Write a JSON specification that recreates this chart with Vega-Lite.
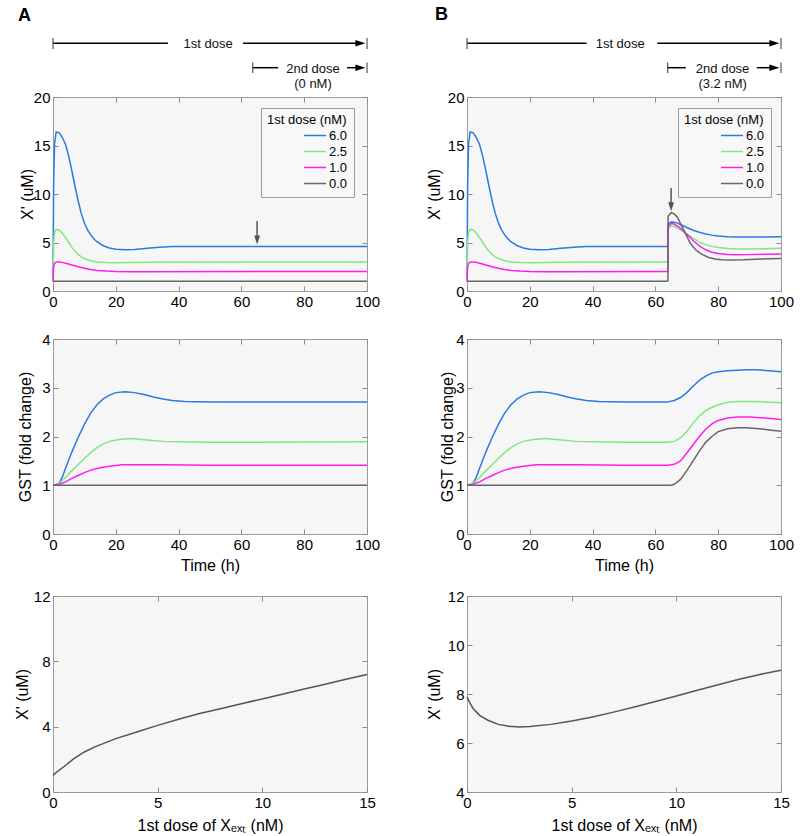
{
"$schema":"https://vega.github.io/schema/vega-lite/v6.json",
"background":"white",
"padding":{"left":13,"top":0,"right":10,"bottom":4},
"columns":2,
"spacing":{"row":0,"column":100},
"bounds":"flush",
"align":"each",
"resolve":{"scale":{"color":"independent"},"legend":{"color":"independent"}},
"datasets":{
"xA":[
{"t":0,"d":"6.0","v":1.0},{"t":0.2,"d":"6.0","v":11.0},{"t":0.5,"d":"6.0","v":15.2},{"t":1,"d":"6.0","v":16.4},{"t":2,"d":"6.0","v":16.3},{"t":3,"d":"6.0","v":15.8},{"t":4,"d":"6.0","v":15.1},{"t":5,"d":"6.0","v":13.9},{"t":6,"d":"6.0","v":12.4},{"t":7,"d":"6.0","v":10.8},{"t":8,"d":"6.0","v":9.3},{"t":9,"d":"6.0","v":8.0},{"t":10,"d":"6.0","v":7.0},{"t":11,"d":"6.0","v":6.3},{"t":12,"d":"6.0","v":5.78},{"t":13,"d":"6.0","v":5.38},{"t":14,"d":"6.0","v":5.08},{"t":16,"d":"6.0","v":4.67},{"t":18,"d":"6.0","v":4.43},{"t":20,"d":"6.0","v":4.31},{"t":23,"d":"6.0","v":4.26},{"t":26,"d":"6.0","v":4.29},{"t":30,"d":"6.0","v":4.4},{"t":34,"d":"6.0","v":4.51},{"t":38,"d":"6.0","v":4.58},{"t":42,"d":"6.0","v":4.6},{"t":64,"d":"6.0","v":4.6},{"t":100,"d":"6.0","v":4.6},
{"t":0,"d":"2.5","v":1.0},{"t":0.2,"d":"2.5","v":5.0},{"t":0.5,"d":"2.5","v":6.0},{"t":1,"d":"2.5","v":6.35},{"t":2,"d":"2.5","v":6.3},{"t":3,"d":"2.5","v":5.95},{"t":4,"d":"2.5","v":5.5},{"t":5,"d":"2.5","v":5.0},{"t":6,"d":"2.5","v":4.5},{"t":7,"d":"2.5","v":4.1},{"t":8,"d":"2.5","v":3.78},{"t":9,"d":"2.5","v":3.52},{"t":10,"d":"2.5","v":3.35},{"t":12,"d":"2.5","v":3.12},{"t":14,"d":"2.5","v":3.0},{"t":17,"d":"2.5","v":2.94},{"t":20,"d":"2.5","v":2.92},{"t":25,"d":"2.5","v":2.93},{"t":30,"d":"2.5","v":2.96},{"t":40,"d":"2.5","v":3.0},{"t":64,"d":"2.5","v":3.0},{"t":100,"d":"2.5","v":3.0},
{"t":0,"d":"1.0","v":1.0},{"t":0.2,"d":"1.0","v":2.5},{"t":0.5,"d":"1.0","v":2.85},{"t":1,"d":"1.0","v":3.0},{"t":2,"d":"1.0","v":3.0},{"t":3,"d":"1.0","v":2.95},{"t":4,"d":"1.0","v":2.87},{"t":5,"d":"1.0","v":2.78},{"t":6,"d":"1.0","v":2.68},{"t":8,"d":"1.0","v":2.5},{"t":10,"d":"1.0","v":2.34},{"t":12,"d":"1.0","v":2.21},{"t":14,"d":"1.0","v":2.12},{"t":17,"d":"1.0","v":2.05},{"t":20,"d":"1.0","v":2.01},{"t":25,"d":"1.0","v":1.99},{"t":64,"d":"1.0","v":2.0},{"t":100,"d":"1.0","v":2.0},
{"t":0,"d":"0.0","v":1.0},{"t":64,"d":"0.0","v":1.0},{"t":100,"d":"0.0","v":1.0}
],
"xBpost":[
{"t":64,"d":"6.0","v":4.6},{"t":64.05,"d":"6.0","v":6.9},{"t":65,"d":"6.0","v":7.12},{"t":66,"d":"6.0","v":7.1},{"t":67,"d":"6.0","v":7.0},{"t":68,"d":"6.0","v":6.85},{"t":70,"d":"6.0","v":6.55},{"t":72,"d":"6.0","v":6.27},{"t":74,"d":"6.0","v":6.05},{"t":76,"d":"6.0","v":5.88},{"t":78,"d":"6.0","v":5.76},{"t":80,"d":"6.0","v":5.68},{"t":83,"d":"6.0","v":5.6},{"t":86,"d":"6.0","v":5.56},{"t":90,"d":"6.0","v":5.56},{"t":95,"d":"6.0","v":5.57},{"t":100,"d":"6.0","v":5.58},
{"t":64,"d":"2.5","v":3.0},{"t":64.05,"d":"2.5","v":6.4},{"t":65,"d":"2.5","v":6.7},{"t":66,"d":"2.5","v":6.65},{"t":67,"d":"2.5","v":6.5},{"t":68,"d":"2.5","v":6.3},{"t":70,"d":"2.5","v":5.9},{"t":72,"d":"2.5","v":5.45},{"t":74,"d":"2.5","v":5.05},{"t":76,"d":"2.5","v":4.78},{"t":78,"d":"2.5","v":4.6},{"t":80,"d":"2.5","v":4.48},{"t":83,"d":"2.5","v":4.38},{"t":86,"d":"2.5","v":4.33},{"t":90,"d":"2.5","v":4.33},{"t":95,"d":"2.5","v":4.36},{"t":100,"d":"2.5","v":4.4},
{"t":64,"d":"1.0","v":2.0},{"t":64.05,"d":"1.0","v":6.6},{"t":65,"d":"1.0","v":6.95},{"t":66,"d":"1.0","v":6.9},{"t":67,"d":"1.0","v":6.7},{"t":68,"d":"1.0","v":6.45},{"t":70,"d":"1.0","v":5.85},{"t":72,"d":"1.0","v":5.2},{"t":74,"d":"1.0","v":4.65},{"t":76,"d":"1.0","v":4.25},{"t":78,"d":"1.0","v":4.0},{"t":80,"d":"1.0","v":3.86},{"t":83,"d":"1.0","v":3.77},{"t":86,"d":"1.0","v":3.74},{"t":90,"d":"1.0","v":3.75},{"t":95,"d":"1.0","v":3.78},{"t":100,"d":"1.0","v":3.82},
{"t":64,"d":"0.0","v":1.0},{"t":64.05,"d":"0.0","v":7.7},{"t":65,"d":"0.0","v":8.07},{"t":66,"d":"0.0","v":7.95},{"t":67,"d":"0.0","v":7.6},{"t":68,"d":"0.0","v":6.95},{"t":69,"d":"0.0","v":6.3},{"t":70,"d":"0.0","v":5.65},{"t":71,"d":"0.0","v":5.0},{"t":72,"d":"0.0","v":4.55},{"t":73,"d":"0.0","v":4.2},{"t":74,"d":"0.0","v":3.95},{"t":75,"d":"0.0","v":3.75},{"t":77,"d":"0.0","v":3.45},{"t":79,"d":"0.0","v":3.3},{"t":81,"d":"0.0","v":3.23},{"t":84,"d":"0.0","v":3.2},{"t":88,"d":"0.0","v":3.22},{"t":92,"d":"0.0","v":3.27},{"t":96,"d":"0.0","v":3.32},{"t":100,"d":"0.0","v":3.36}
],
"gA":[
{"t":0,"d":"6.0","v":1.0},{"t":1,"d":"6.0","v":1.01},{"t":2,"d":"6.0","v":1.05},{"t":3,"d":"6.0","v":1.17},{"t":4,"d":"6.0","v":1.35},{"t":6,"d":"6.0","v":1.68},{"t":8,"d":"6.0","v":1.98},{"t":10,"d":"6.0","v":2.25},{"t":12,"d":"6.0","v":2.48},{"t":14,"d":"6.0","v":2.65},{"t":16,"d":"6.0","v":2.77},{"t":18,"d":"6.0","v":2.85},{"t":20,"d":"6.0","v":2.9},{"t":23,"d":"6.0","v":2.92},{"t":26,"d":"6.0","v":2.9},{"t":29,"d":"6.0","v":2.86},{"t":32,"d":"6.0","v":2.81},{"t":35,"d":"6.0","v":2.77},{"t":38,"d":"6.0","v":2.74},{"t":42,"d":"6.0","v":2.72},{"t":50,"d":"6.0","v":2.71},{"t":64,"d":"6.0","v":2.71},{"t":100,"d":"6.0","v":2.71},
{"t":0,"d":"2.5","v":1.0},{"t":2,"d":"2.5","v":1.04},{"t":4,"d":"2.5","v":1.16},{"t":6,"d":"2.5","v":1.3},{"t":8,"d":"2.5","v":1.42},{"t":10,"d":"2.5","v":1.55},{"t":12,"d":"2.5","v":1.67},{"t":14,"d":"2.5","v":1.77},{"t":16,"d":"2.5","v":1.85},{"t":18,"d":"2.5","v":1.9},{"t":21,"d":"2.5","v":1.94},{"t":25,"d":"2.5","v":1.96},{"t":30,"d":"2.5","v":1.93},{"t":35,"d":"2.5","v":1.9},{"t":40,"d":"2.5","v":1.89},{"t":50,"d":"2.5","v":1.88},{"t":64,"d":"2.5","v":1.88},{"t":100,"d":"2.5","v":1.89},
{"t":0,"d":"1.0","v":1.0},{"t":2,"d":"1.0","v":1.02},{"t":4,"d":"1.0","v":1.07},{"t":6,"d":"1.0","v":1.14},{"t":8,"d":"1.0","v":1.2},{"t":10,"d":"1.0","v":1.26},{"t":12,"d":"1.0","v":1.31},{"t":15,"d":"1.0","v":1.36},{"t":18,"d":"1.0","v":1.39},{"t":22,"d":"1.0","v":1.42},{"t":27,"d":"1.0","v":1.42},{"t":35,"d":"1.0","v":1.42},{"t":50,"d":"1.0","v":1.41},{"t":64,"d":"1.0","v":1.41},{"t":100,"d":"1.0","v":1.41},
{"t":0,"d":"0.0","v":1.0},{"t":64,"d":"0.0","v":1.0},{"t":100,"d":"0.0","v":1.0}
],
"gBpost":[
{"t":64,"d":"6.0","v":2.71},{"t":66,"d":"6.0","v":2.74},{"t":68,"d":"6.0","v":2.8},{"t":70,"d":"6.0","v":2.9},{"t":72,"d":"6.0","v":3.03},{"t":74,"d":"6.0","v":3.15},{"t":76,"d":"6.0","v":3.24},{"t":78,"d":"6.0","v":3.3},{"t":80,"d":"6.0","v":3.33},{"t":83,"d":"6.0","v":3.35},{"t":86,"d":"6.0","v":3.36},{"t":89,"d":"6.0","v":3.37},{"t":92,"d":"6.0","v":3.37},{"t":96,"d":"6.0","v":3.35},{"t":100,"d":"6.0","v":3.33},
{"t":64,"d":"2.5","v":1.88},{"t":66,"d":"2.5","v":1.9},{"t":68,"d":"2.5","v":1.97},{"t":70,"d":"2.5","v":2.1},{"t":72,"d":"2.5","v":2.27},{"t":74,"d":"2.5","v":2.42},{"t":76,"d":"2.5","v":2.53},{"t":78,"d":"2.5","v":2.6},{"t":80,"d":"2.5","v":2.65},{"t":83,"d":"2.5","v":2.7},{"t":86,"d":"2.5","v":2.72},{"t":90,"d":"2.5","v":2.72},{"t":95,"d":"2.5","v":2.71},{"t":100,"d":"2.5","v":2.69},
{"t":64,"d":"1.0","v":1.41},{"t":66,"d":"1.0","v":1.43},{"t":68,"d":"1.0","v":1.5},{"t":70,"d":"1.0","v":1.66},{"t":72,"d":"1.0","v":1.83},{"t":74,"d":"1.0","v":2.0},{"t":76,"d":"1.0","v":2.15},{"t":78,"d":"1.0","v":2.26},{"t":80,"d":"1.0","v":2.33},{"t":83,"d":"1.0","v":2.38},{"t":86,"d":"1.0","v":2.4},{"t":90,"d":"1.0","v":2.4},{"t":95,"d":"1.0","v":2.38},{"t":100,"d":"1.0","v":2.35},
{"t":64,"d":"0.0","v":1.0},{"t":65,"d":"0.0","v":1.0},{"t":66,"d":"0.0","v":1.02},{"t":68,"d":"0.0","v":1.12},{"t":70,"d":"0.0","v":1.3},{"t":72,"d":"0.0","v":1.5},{"t":74,"d":"0.0","v":1.7},{"t":76,"d":"0.0","v":1.88},{"t":78,"d":"0.0","v":2.0},{"t":80,"d":"0.0","v":2.1},{"t":83,"d":"0.0","v":2.16},{"t":86,"d":"0.0","v":2.18},{"t":89,"d":"0.0","v":2.18},{"t":93,"d":"0.0","v":2.16},{"t":97,"d":"0.0","v":2.13},{"t":100,"d":"0.0","v":2.11}
],
"dA":[
{"c":0,"v":1.02},{"c":0.25,"v":1.3},{"c":0.5,"v":1.53},{"c":1,"v":2.04},{"c":1.5,"v":2.45},{"c":2,"v":2.76},{"c":3,"v":3.27},{"c":4,"v":3.67},{"c":5,"v":4.08},{"c":6,"v":4.45},{"c":7,"v":4.8},{"c":8,"v":5.1},{"c":9,"v":5.4},{"c":10,"v":5.7},{"c":11,"v":6.0},{"c":12,"v":6.3},{"c":13,"v":6.6},{"c":14,"v":6.9},{"c":15,"v":7.2}
],
"dB":[
{"c":0,"v":7.88},{"c":0.15,"v":7.62},{"c":0.3,"v":7.4},{"c":0.6,"v":7.13},{"c":1,"v":6.93},{"c":1.5,"v":6.76},{"c":2,"v":6.68},{"c":2.5,"v":6.65},{"c":3,"v":6.67},{"c":4,"v":6.76},{"c":5,"v":6.9},{"c":6,"v":7.06},{"c":7,"v":7.26},{"c":8,"v":7.47},{"c":9,"v":7.69},{"c":10,"v":7.92},{"c":11,"v":8.15},{"c":12,"v":8.38},{"c":13,"v":8.6},{"c":14,"v":8.8},{"c":15,"v":8.97}
],
"arrA":[{"t":65,"y1":7.22,"y2":5.5,"h":5.27}],
"arrB":[{"t":65,"y1":10.63,"y2":8.9,"h":8.68}],
"segA":[
{"x":0,"x2":36.6,"y":43.3,"y2":43.3,"k":"line"},{"x":60.5,"x2":98,"y":43.3,"y2":43.3,"k":"line"},{"x":63.6,"x2":71.7,"y":67.7,"y2":67.7,"k":"line"},{"x":93.6,"x2":98,"y":67.7,"y2":67.7,"k":"line"},
{"x":0,"x2":0,"y":38,"y2":49,"k":"tick"},{"x":100,"x2":100,"y":38,"y2":49,"k":"tick"},{"x":63.6,"x2":63.6,"y":62.5,"y2":73,"k":"tick"},{"x":100,"x2":100,"y":62.5,"y2":73,"k":"tick"}
],
"segB":[
{"x":0,"x2":38.1,"y":43.3,"y2":43.3,"k":"line"},{"x":60.6,"x2":98,"y":43.3,"y2":43.3,"k":"line"},{"x":63.9,"x2":69.7,"y":67.7,"y2":67.7,"k":"line"},{"x":92.3,"x2":98,"y":67.7,"y2":67.7,"k":"line"},
{"x":0,"x2":0,"y":38,"y2":49,"k":"tick"},{"x":100,"x2":100,"y":38,"y2":49,"k":"tick"},{"x":63.9,"x2":63.9,"y":62.5,"y2":73,"k":"tick"},{"x":100,"x2":100,"y":62.5,"y2":73,"k":"tick"}
],
"headA":[{"x":97.9,"y":43.3},{"x":97.9,"y":67.7}],
"headB":[{"x":97.9,"y":43.3},{"x":97.9,"y":67.7}],
"txtA":[{"x":49.4,"y":48.3,"s":"1st dose"},{"x":82.8,"y":72.7,"s":"2nd dose"},{"x":82.8,"y":87.5,"s":"(0 nM)"}],
"txtB":[{"x":48.8,"y":48.3,"s":"1st dose"},{"x":81.4,"y":72.7,"s":"2nd dose"},{"x":81.4,"y":87.5,"s":"(3.2 nM)"}],
"labA":[{"x":-11.15,"y":21,"s":"A"}],
"labB":[{"x":-10.2,"y":19.7,"s":"B"}]
},
"concat":[
{"width":314,"height":97,"view":{"stroke":null,"fill":null},
 "layer":[
  {"data":{"name":"segA"},"transform":[{"filter":"datum.k == 'line'"}],"mark":{"type":"rule","color":"#000","strokeWidth":1.5},
   "encoding":{"x":{"field":"x","type":"quantitative","scale":{"domain":[0,100],"nice":false,"zero":false},"axis":null},"x2":{"field":"x2"},"y":{"field":"y","type":"quantitative","scale":{"domain":[0,97],"reverse":true,"nice":false,"zero":false},"axis":null},"y2":{"field":"y2"}}},
  {"data":{"name":"segA"},"transform":[{"filter":"datum.k == 'tick'"}],"mark":{"type":"rule","color":"#555","strokeWidth":1.2},
   "encoding":{"x":{"field":"x","type":"quantitative","scale":{"domain":[0,100],"nice":false,"zero":false},"axis":null},"x2":{"field":"x2"},"y":{"field":"y","type":"quantitative","scale":{"domain":[0,97],"reverse":true,"nice":false,"zero":false},"axis":null},"y2":{"field":"y2"}}},
  {"data":{"name":"headA"},"mark":{"type":"point","shape":"M-1,-0.65L1,0L-1,0.65Z","size":100,"filled":true,"color":"#000","opacity":1},
   "encoding":{"x":{"field":"x","type":"quantitative","scale":{"domain":[0,100],"nice":false,"zero":false},"axis":null},"y":{"field":"y","type":"quantitative","scale":{"domain":[0,97],"reverse":true,"nice":false,"zero":false},"axis":null}}},
  {"data":{"name":"txtA"},"mark":{"type":"text","fontSize":13,"align":"center","baseline":"alphabetic","color":"#111"},
   "encoding":{"x":{"field":"x","type":"quantitative","scale":{"domain":[0,100],"nice":false,"zero":false},"axis":null},"y":{"field":"y","type":"quantitative","scale":{"domain":[0,97],"reverse":true,"nice":false,"zero":false},"axis":null},"text":{"field":"s"}}},
  {"data":{"name":"labA"},"mark":{"type":"text","fontSize":18,"fontWeight":"bold","align":"left","baseline":"alphabetic","color":"#000"},
   "encoding":{"x":{"field":"x","type":"quantitative","scale":{"domain":[0,100],"nice":false,"zero":false},"axis":null},"y":{"field":"y","type":"quantitative","scale":{"domain":[0,97],"reverse":true,"nice":false,"zero":false},"axis":null},"text":{"field":"s"}}}
 ]},
{"width":314,"height":97,"view":{"stroke":null,"fill":null},
 "layer":[
  {"data":{"name":"segB"},"transform":[{"filter":"datum.k == 'line'"}],"mark":{"type":"rule","color":"#000","strokeWidth":1.5},
   "encoding":{"x":{"field":"x","type":"quantitative","scale":{"domain":[0,100],"nice":false,"zero":false},"axis":null},"x2":{"field":"x2"},"y":{"field":"y","type":"quantitative","scale":{"domain":[0,97],"reverse":true,"nice":false,"zero":false},"axis":null},"y2":{"field":"y2"}}},
  {"data":{"name":"segB"},"transform":[{"filter":"datum.k == 'tick'"}],"mark":{"type":"rule","color":"#555","strokeWidth":1.2},
   "encoding":{"x":{"field":"x","type":"quantitative","scale":{"domain":[0,100],"nice":false,"zero":false},"axis":null},"x2":{"field":"x2"},"y":{"field":"y","type":"quantitative","scale":{"domain":[0,97],"reverse":true,"nice":false,"zero":false},"axis":null},"y2":{"field":"y2"}}},
  {"data":{"name":"headB"},"mark":{"type":"point","shape":"M-1,-0.65L1,0L-1,0.65Z","size":100,"filled":true,"color":"#000","opacity":1},
   "encoding":{"x":{"field":"x","type":"quantitative","scale":{"domain":[0,100],"nice":false,"zero":false},"axis":null},"y":{"field":"y","type":"quantitative","scale":{"domain":[0,97],"reverse":true,"nice":false,"zero":false},"axis":null}}},
  {"data":{"name":"txtB"},"mark":{"type":"text","fontSize":13,"align":"center","baseline":"alphabetic","color":"#111"},
   "encoding":{"x":{"field":"x","type":"quantitative","scale":{"domain":[0,100],"nice":false,"zero":false},"axis":null},"y":{"field":"y","type":"quantitative","scale":{"domain":[0,97],"reverse":true,"nice":false,"zero":false},"axis":null},"text":{"field":"s"}}},
  {"data":{"name":"labB"},"mark":{"type":"text","fontSize":18,"fontWeight":"bold","align":"left","baseline":"alphabetic","color":"#000"},
   "encoding":{"x":{"field":"x","type":"quantitative","scale":{"domain":[0,100],"nice":false,"zero":false},"axis":null},"y":{"field":"y","type":"quantitative","scale":{"domain":[0,97],"reverse":true,"nice":false,"zero":false},"axis":null},"text":{"field":"s"}}}
 ]},
{"width":314,"height":194,
 "layer":[
  {"data":{"name":"xA"},"mark":{"type":"line","strokeWidth":1.5},
   "encoding":{"x":{"field":"t","type":"quantitative","scale":{"domain":[0,100],"nice":false,"zero":false},"axis":{"values":[0,20,40,60,80,100],"title":null}},
    "y":{"field":"v","type":"quantitative","scale":{"domain":[0,20],"nice":false,"zero":false},"axis":{"values":[0,5,10,15,20],"title":"X' (uM)","titleX":-21,"titleAngle":270,"titleBaseline":"alphabetic","titleAlign":"center"}},
    "color":{"field":"d","type":"nominal","scale":{"domain":["6.0","2.5","1.0","0.0"],"range":["#2a7ae2","#80e880","#ff1cf0","#676767"]},"legend":{"title":"1st dose (nM)","orient":"none","legendX":208,"legendY":11}}}},
  {"data":{"name":"arrA"},"mark":{"type":"rule","color":"#555","strokeWidth":1.5},
   "encoding":{"x":{"field":"t","type":"quantitative","axis":null},"y":{"field":"y1","type":"quantitative","axis":null},"y2":{"field":"y2"}}},
  {"data":{"name":"arrA"},"mark":{"type":"point","shape":"M-0.65,-1L0.65,-1L0,1Z","size":81,"filled":true,"color":"#555","opacity":1},
   "encoding":{"x":{"field":"t","type":"quantitative","axis":null},"y":{"field":"h","type":"quantitative","axis":null}}},
  {"data":{"values":[]},"mark":"point",
   "encoding":{"x":{"field":"t","type":"quantitative","axis":{"orient":"top","labels":false,"title":null,"values":[0,20,40,60,80,100]}},"y":{"field":"v","type":"quantitative","axis":{"orient":"right","labels":false,"title":null,"values":[0,5,10,15,20]}}}}
 ],
 "resolve":{"axis":{"x":"independent","y":"independent"}}},
{"width":314,"height":194,
 "layer":[
  {"data":{"name":"xA"},"transform":[{"filter":"datum.t <= 64"}],"mark":{"type":"line","strokeWidth":1.5},
   "encoding":{"x":{"field":"t","type":"quantitative","scale":{"domain":[0,100],"nice":false,"zero":false},"axis":{"values":[0,20,40,60,80,100],"title":null}},
    "y":{"field":"v","type":"quantitative","scale":{"domain":[0,20],"nice":false,"zero":false},"axis":{"values":[0,5,10,15,20],"title":"X' (uM)","titleX":-28,"titleAngle":270,"titleBaseline":"alphabetic","titleAlign":"center"}},
    "color":{"field":"d","type":"nominal","scale":{"domain":["6.0","2.5","1.0","0.0"],"range":["#2a7ae2","#80e880","#ff1cf0","#676767"]},"legend":{"title":"1st dose (nM)","orient":"none","legendX":211,"legendY":11}}}},
  {"data":{"name":"xBpost"},"mark":{"type":"line","strokeWidth":1.5},
   "encoding":{"x":{"field":"t","type":"quantitative","axis":null},"y":{"field":"v","type":"quantitative","axis":null},
    "color":{"field":"d","type":"nominal","scale":{"domain":["6.0","2.5","1.0","0.0"],"range":["#2a7ae2","#80e880","#ff1cf0","#676767"]},"legend":{"title":"1st dose (nM)","orient":"none","legendX":211,"legendY":11}}}},
  {"data":{"name":"arrB"},"mark":{"type":"rule","color":"#555","strokeWidth":1.5},
   "encoding":{"x":{"field":"t","type":"quantitative","axis":null},"y":{"field":"y1","type":"quantitative","axis":null},"y2":{"field":"y2"}}},
  {"data":{"name":"arrB"},"mark":{"type":"point","shape":"M-0.65,-1L0.65,-1L0,1Z","size":81,"filled":true,"color":"#555","opacity":1},
   "encoding":{"x":{"field":"t","type":"quantitative","axis":null},"y":{"field":"h","type":"quantitative","axis":null}}},
  {"data":{"values":[]},"mark":"point",
   "encoding":{"x":{"field":"t","type":"quantitative","axis":{"orient":"top","labels":false,"title":null,"values":[0,20,40,60,80,100]}},"y":{"field":"v","type":"quantitative","axis":{"orient":"right","labels":false,"title":null,"values":[0,5,10,15,20]}}}}
 ],
 "resolve":{"axis":{"x":"independent","y":"independent"}}},
{"data":{"values":[]},"mark":"point","width":314,"height":48,"view":{"stroke":null,"fill":null}},
{"data":{"values":[]},"mark":"point","width":314,"height":48,"view":{"stroke":null,"fill":null}},
{"width":314,"height":195,
 "layer":[
  {"data":{"name":"gA"},"mark":{"type":"line","strokeWidth":1.5},
   "encoding":{"x":{"field":"t","type":"quantitative","scale":{"domain":[0,100],"nice":false,"zero":false},"axis":{"values":[0,20,40,60,80,100],"title":"Time (h)","titleY":36,"titleBaseline":"alphabetic"}},
    "y":{"field":"v","type":"quantitative","scale":{"domain":[0,4],"nice":false,"zero":false},"axis":{"values":[0,1,2,3,4],"title":"GST (fold change)","titleX":-23,"titleAngle":270,"titleBaseline":"alphabetic","titleAlign":"center"}},
    "color":{"field":"d","type":"nominal","scale":{"domain":["6.0","2.5","1.0","0.0"],"range":["#2a7ae2","#80e880","#ff1cf0","#676767"]},"legend":null}}},
  {"data":{"values":[]},"mark":"point",
   "encoding":{"x":{"field":"t","type":"quantitative","axis":{"orient":"top","labels":false,"title":null,"values":[0,20,40,60,80,100]}},"y":{"field":"v","type":"quantitative","axis":{"orient":"right","labels":false,"title":null,"values":[0,1,2,3,4]}}}}
 ],
 "resolve":{"axis":{"x":"independent","y":"independent"}}},
{"width":314,"height":195,
 "layer":[
  {"data":{"name":"gA"},"transform":[{"filter":"datum.t <= 64"}],"mark":{"type":"line","strokeWidth":1.5},
   "encoding":{"x":{"field":"t","type":"quantitative","scale":{"domain":[0,100],"nice":false,"zero":false},"axis":{"values":[0,20,40,60,80,100],"title":"Time (h)","titleY":36,"titleBaseline":"alphabetic"}},
    "y":{"field":"v","type":"quantitative","scale":{"domain":[0,4],"nice":false,"zero":false},"axis":{"values":[0,1,2,3,4],"title":"GST (fold change)","titleX":-15,"titleAngle":270,"titleBaseline":"alphabetic","titleAlign":"center"}},
    "color":{"field":"d","type":"nominal","scale":{"domain":["6.0","2.5","1.0","0.0"],"range":["#2a7ae2","#80e880","#ff1cf0","#676767"]},"legend":null}}},
  {"data":{"name":"gBpost"},"mark":{"type":"line","strokeWidth":1.5},
   "encoding":{"x":{"field":"t","type":"quantitative","axis":null},"y":{"field":"v","type":"quantitative","axis":null},
    "color":{"field":"d","type":"nominal","scale":{"domain":["6.0","2.5","1.0","0.0"],"range":["#2a7ae2","#80e880","#ff1cf0","#676767"]},"legend":null}}},
  {"data":{"values":[]},"mark":"point",
   "encoding":{"x":{"field":"t","type":"quantitative","axis":{"orient":"top","labels":false,"title":null,"values":[0,20,40,60,80,100]}},"y":{"field":"v","type":"quantitative","axis":{"orient":"right","labels":false,"title":null,"values":[0,1,2,3,4]}}}}
 ],
 "resolve":{"axis":{"x":"independent","y":"independent"}}},
{"data":{"values":[]},"mark":"point","width":314,"height":62,"view":{"stroke":null,"fill":null}},
{"data":{"values":[]},"mark":"point","width":314,"height":62,"view":{"stroke":null,"fill":null}},
{"width":314,"height":196,
 "layer":[
  {"data":{"name":"dA"},"mark":{"type":"line","strokeWidth":1.5,"color":"#555"},
   "encoding":{"x":{"field":"c","type":"quantitative","scale":{"domain":[0,15],"nice":false,"zero":false},"axis":{"values":[0,5,10,15],"title":"1st dose of Xₑₓₜ (nM)","titleY":38,"titleBaseline":"alphabetic"}},
    "y":{"field":"v","type":"quantitative","scale":{"domain":[0,12],"nice":false,"zero":false},"axis":{"values":[0,4,8,12],"title":"X' (uM)","titleX":-26,"titleAngle":270,"titleBaseline":"alphabetic","titleAlign":"center"}}}},
  {"data":{"values":[]},"mark":"point",
   "encoding":{"x":{"field":"c","type":"quantitative","axis":{"orient":"top","labels":false,"title":null,"values":[0,5,10,15]}},"y":{"field":"v","type":"quantitative","axis":{"orient":"right","labels":false,"title":null,"values":[0,4,8,12]}}}}
 ],
 "resolve":{"axis":{"x":"independent","y":"independent"}}},
{"width":314,"height":196,
 "layer":[
  {"data":{"name":"dB"},"mark":{"type":"line","strokeWidth":1.5,"color":"#555"},
   "encoding":{"x":{"field":"c","type":"quantitative","scale":{"domain":[0,15],"nice":false,"zero":false},"axis":{"values":[0,5,10,15],"title":"1st dose of Xₑₓₜ (nM)","titleY":38,"titleBaseline":"alphabetic"}},
    "y":{"field":"v","type":"quantitative","scale":{"domain":[4,12],"nice":false,"zero":false},"axis":{"values":[4,6,8,10,12],"title":"X' (uM)","titleX":-28,"titleAngle":270,"titleBaseline":"alphabetic","titleAlign":"center"}}}},
  {"data":{"values":[]},"mark":"point",
   "encoding":{"x":{"field":"c","type":"quantitative","axis":{"orient":"top","labels":false,"title":null,"values":[0,5,10,15]}},"y":{"field":"v","type":"quantitative","axis":{"orient":"right","labels":false,"title":null,"values":[4,6,8,10,12]}}}}
 ],
 "resolve":{"axis":{"x":"independent","y":"independent"}}}
],
"config":{
 "font":"Liberation Sans",
 "view":{"stroke":"#9d9d9d","fill":"#f6f6f6"},
 "axis":{"domain":false,"grid":false,"tickColor":"#8c8c8c","tickSize":-5,"tickWidth":1,"labelPadding":8,"labelFontSize":15,"labelColor":"#000","titleFontSize":16,"titleFontWeight":"normal","titleColor":"#000","labelFlush":false,"labelOverlap":false},
 "legend":{"symbolType":"M-3,0H1","symbolSize":121,"symbolStrokeWidth":1.5,"symbolOffset":47,"labelOffset":2,"padding":6,"rowPadding":2,"titlePadding":2,"strokeColor":"#9d9d9d","fillColor":"#f8f8f8","labelFontSize":13,"titleFontSize":13,"titleFontWeight":"normal","titleColor":"#000","labelColor":"#000"}
}
}
